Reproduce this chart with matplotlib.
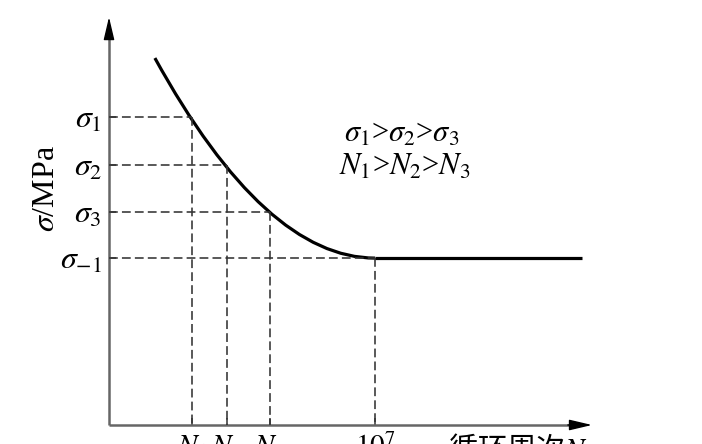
import matplotlib
matplotlib.use('Agg')
import matplotlib.pyplot as plt
from matplotlib.path import Path
import matplotlib.patches as patches

plt.rcParams['font.family'] = ['Liberation Serif', 'Noto Sans CJK SC']
plt.rcParams['mathtext.fontset'] = 'stix'

# schematic S-N curve, arbitrary units (0..100 on both axes)
curve_start = (9.5, 89.5)      # upper left end of the curve
knee = (55.1, 40.7)            # N0 = 10^7, fatigue limit
curve_end_x = 97.9             # end of the horizontal part

N_levels = [17.2, 24.4, 33.3]          # N1, N2, N3 positions
sigma_levels = [75.1, 63.4, 52.0]      # sigma1, sigma2, sigma3
sigma_labels = [r'$\sigma_1$', r'$\sigma_2$', r'$\sigma_3$', r'$\sigma_{-1}$']
N_labels = [r'$N_1$', r'$N_2$', r'$N_3$', r'$10^7$']

fig = plt.figure(figsize=(7.02, 4.44), dpi=100)
ax = fig.add_axes([109 / 702, 19 / 444, 483 / 702, 410 / 444])
ax.set_xlim(0, 100)
ax.set_ylim(0, 100)
for s in ax.spines.values():
    s.set_visible(False)

# axes with black arrow heads
axis_col = '#666666'
head = dict(arrowstyle='-|>,head_length=1.4,head_width=0.33', mutation_scale=10,
            lw=1.0, shrinkA=0, shrinkB=0, fc='black', ec='black')
ax.annotate('', xy=(0, 99.5), xytext=(0, 95), arrowprops=head, annotation_clip=False)
ax.annotate('', xy=(100, 0), xytext=(95, 0), arrowprops=head, annotation_clip=False)
ax.plot([0, 0], [0, 96], color=axis_col, lw=1.8, clip_on=False, solid_capstyle='butt')
ax.plot([0, 96], [0, 0], color=axis_col, lw=1.8, clip_on=False, solid_capstyle='butt')

# dashed guides
dash = (0, (5.5, 2.6))
for n, s in zip(N_levels + [knee[0]], sigma_levels + [knee[1]]):
    ax.plot([0, n], [s, s], color='#333333', lw=1.15, ls=dash, clip_on=False)
    ax.plot([n, n], [s, 0], color='#333333', lw=1.15, ls=dash, clip_on=False)

# S-N curve: parabola (quadratic bezier) to the knee, then flat
ctrl = (curve_start[0] + (knee[0] - curve_start[0]) / 2, knee[1])
path = Path([curve_start, ctrl, knee], [Path.MOVETO, Path.CURVE3, Path.CURVE3])
ax.add_patch(patches.PathPatch(path, fc='none', ec='black', lw=2.3, clip_on=False))
ax.plot([knee[0], curve_end_x], [knee[1], knee[1]], color='black', lw=2.3,
        solid_capstyle='butt', clip_on=False)

# ticks
ax.set_yticks(sigma_levels + [knee[1]])
ax.set_yticklabels(sigma_labels, fontsize=23)
ax.set_xticks(N_levels + [knee[0]])
ax.set_xticklabels(N_labels, fontsize=21)
ax.tick_params(axis='both', direction='in', length=5, width=1.2, color='#444444')
ax.tick_params(axis='y', pad=5)
ax.tick_params(axis='x', pad=6)

ax.text(60.5, 71.0, r'$\sigma_1$>$\sigma_2$>$\sigma_3$', fontsize=22,
        ha='center', va='center')
ax.text(61.3, 62.8, r'$N_1$>$N_2$>$N_3$', fontsize=22, ha='center', va='center')

fig.text(46 / 702, 1 - 189 / 444, r'$\sigma$/MPa', fontsize=23, rotation=90,
         ha='center', va='center')
fig.text(518 / 702, 1 - 433 / 444, '循环周次' + r'$N$', fontsize=21,
         ha='center', va='top', family=['Noto Sans CJK SC', 'DejaVu Sans'])

fig.savefig('out.png', dpi=100)
